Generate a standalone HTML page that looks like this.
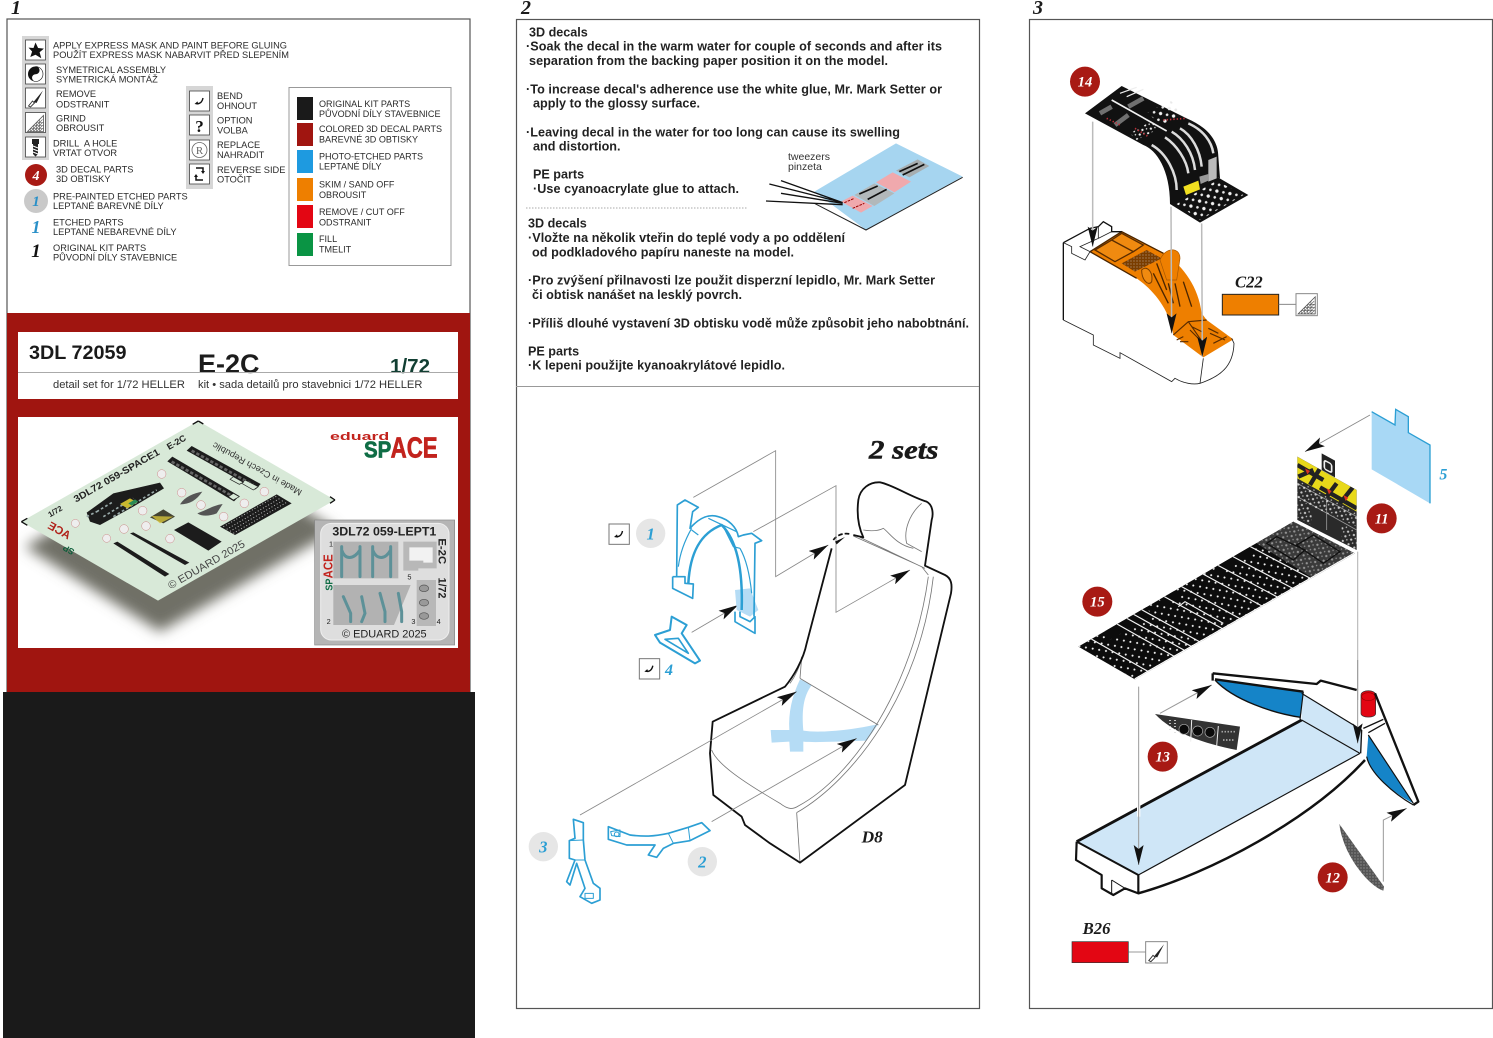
<!DOCTYPE html>
<html><head><meta charset="utf-8"><style>
html,body{margin:0;padding:0;background:#fff}
svg{display:block}
text{font-family:"Liberation Sans",sans-serif;fill:#2a2a2a}
.lg{font-size:9.25px}
.lr{font-size:9.05px}
.b{font-size:12.6px;font-weight:bold;fill:#222}
.n{font-family:"Liberation Serif",serif;font-style:italic;font-weight:bold}
.s{font-family:"Liberation Serif",serif;font-style:italic;font-weight:bold;fill:#1a1a1a}
</style></head><body>
<svg width="1493" height="1038" viewBox="0 0 1493 1038" xmlns="http://www.w3.org/2000/svg">
<defs>
<marker id="a" viewBox="0 0 20 10" refX="20" refY="5" markerWidth="60" markerHeight="30" markerUnits="userSpaceOnUse" orient="auto"><path d="M0,0L20,5L0,10L4,5z" fill="#111"/></marker>
<pattern id="dots" width="31" height="26" patternUnits="userSpaceOnUse" patternTransform="rotate(-30)"><circle cx="6" cy="6" r="3" fill="#f4f4f4"/><circle cx="22" cy="19" r="3" fill="#f4f4f4"/></pattern>
<pattern id="dots2" width="20" height="16" patternUnits="userSpaceOnUse" patternTransform="rotate(30)"><circle cx="6" cy="6" r="3.4" fill="#eee"/><circle cx="15" cy="13" r="2.4" fill="#ddd"/></pattern>
<pattern id="dots3" width="30" height="26" patternUnits="userSpaceOnUse" patternTransform="rotate(-30)"><circle cx="8" cy="8" r="5" fill="#f2f2f2"/><circle cx="23" cy="21" r="4" fill="#e8e8e8"/></pattern>
<pattern id="sp" width="9" height="9" patternUnits="userSpaceOnUse"><circle cx="3" cy="3" r="1.4" fill="#ddd"/></pattern>
<filter id="bl" x="-30%" y="-30%" width="160%" height="160%"><feGaussianBlur stdDeviation="20"/></filter>
<clipPath id="s15"><path d="M55,740L700,365L885,460L225,838z"/></clipPath>
<clipPath id="s11"><path d="M712,170L890,270V450L712,360z"/></clipPath>
<clipPath id="ph"><rect x="54" y="290" width="1320" height="692"/></clipPath>
<g id="bend"><path d="M6.5,12.5c3.5,.8 6,-1 7,-5.5" fill="none" stroke="#111" stroke-width="1.4"/><path d="M5,13l3,-2.6l1,3.2z" fill="#111"/></g>
<g id="scalpel"><path d="M3,18L7,13L9,15L5,19z" fill="none" stroke="#333" stroke-width=".9"/><path d="M8,14L17.5,2.5L11,15z" fill="#222"/></g>
<g id="grind"><path d="M2,19L18,3V19z" fill="#fff" stroke="#555" stroke-width=".8"/><path d="M5,19L17,7M8,19L17,10M11,19L17,13M14,19L17,16M5,16H18M8,13H18M11,10H18M5,19V16M8,19V13M11,19V10M14,19V7" stroke="#555" stroke-width=".55" fill="none"/></g>
</defs>
<rect width="1493" height="1038" fill="#fff"/>

<!-- headings -->
<text class="s" x="11" y="14" font-size="20">1</text>
<text class="s" x="521" y="14" font-size="20">2</text>
<text class="s" x="1033" y="14" font-size="20">3</text>

<!-- PANEL 1 -->
<rect x="7" y="19" width="463" height="680" fill="#fff" stroke="#555" stroke-width="1.2"/>
<rect x="7" y="313" width="463" height="385" fill="#a01510"/>
<rect x="3" y="692" width="472" height="346" fill="#1a1a1a"/>

<!-- legend icons -->
<rect x="22" y="36" width="27" height="124" fill="#d6d6d6"/>
<g fill="#fff" stroke="#444" stroke-width=".8">
<rect x="25.500" y="40" width="20" height="20"/><rect x="25.500" y="64" width="20" height="20"/><rect x="25.500" y="88" width="20" height="20"/><rect x="25.500" y="112.500" width="20" height="20"/><rect x="25.500" y="137" width="20" height="20"/>
</g>
<path d="M35.500,42.500l2.600,5.500l5.800,.6l-4.300,3.700l1.700,6l-5.800,-3.600l-5.200,2.300l1.800,-5.500l-3.600,-3.900l5,.4z" fill="#111"/>
<circle cx="35.500" cy="74" r="7.500" fill="#111"/><path d="M35.500,66.500a3.700,3.700 0 0 1 0,7.500a3.700,3.700 0 0 0 0,7.500a7.500,7.500 0 0 0 0,-15z" fill="#fff" stroke="#111" stroke-width=".6"/>
<use href="#scalpel" x="25.500" y="88"/><use href="#grind" x="25.500" y="112.500"/>
<path d="M32,139h7v5h-1v10l-2.500,2.500l-2.500,-2.500v-10h-1z" fill="#222"/><path d="M33,146l5,2M33,149l5,2M33,152l5,2" stroke="#fff" stroke-width="1"/>
<rect x="186" y="86" width="27" height="103" fill="#d6d6d6"/>
<g fill="#fff" stroke="#444" stroke-width=".8">
<rect x="189.500" y="91" width="20" height="20"/><rect x="189.500" y="115" width="20" height="20"/><rect x="189.500" y="140" width="20" height="20"/><rect x="189.500" y="164" width="20" height="20"/>
</g>
<use href="#bend" x="189.500" y="91"/>
<text x="199.500" y="132" text-anchor="middle" font-size="17" font-weight="bold" style="font-family:'Liberation Serif',serif;fill:#111">?</text>
<circle cx="199.500" cy="150" r="7.500" fill="none" stroke="#666" stroke-width=".8"/><text x="199.500" y="154" text-anchor="middle" font-size="11" style="font-family:'Liberation Serif',serif;fill:#666">R</text>
<path d="M196,168h7v3M203,180h-7v-3" stroke="#111" stroke-width="1.500" fill="none"/><path d="M201,171h4l-2,3zM194,177h4l-2,-3z" fill="#111"/>

<circle cx="36" cy="175" r="11" fill="#a81a14"/><text class="n" x="36" y="180" text-anchor="middle" font-size="14" style="fill:#fff">4</text>
<circle cx="36" cy="201" r="12" fill="#c9c9c9"/><text class="n" x="36" y="206" text-anchor="middle" font-size="15" style="fill:#2a90c8">1</text>
<text class="n" x="36" y="233" text-anchor="middle" font-size="18" style="fill:#2a90c8">1</text>
<text class="n" x="36" y="257" text-anchor="middle" font-size="19" style="fill:#111">1</text>

<g>
<text class="lg" x="53" y="48.500" textLength="234">APPLY EXPRESS MASK AND PAINT BEFORE GLUING</text>
<text class="lg" x="53" y="58" textLength="236">POUŽÍT EXPRESS MASK NABARVIT PŘED SLEPENÍM</text>
<text class="lg" x="56" y="73">SYMETRICAL ASSEMBLY</text><text class="lg" x="56" y="82.500">SYMETRICKÁ MONTÁŽ</text>
<text class="lg" x="56" y="97">REMOVE</text><text class="lg" x="56" y="107.500">ODSTRANIT</text>
<text class="lg" x="56" y="121.500">GRIND</text><text class="lg" x="56" y="131">OBROUSIT</text>
<text class="lg" x="53" y="146.500">DRILL&#160; A HOLE</text><text class="lg" x="53" y="156">VRTAT OTVOR</text>
<text class="lg" x="56" y="172.500">3D DECAL PARTS</text><text class="lg" x="56" y="182">3D OBTISKY</text>
<text class="lg" x="53" y="199.500">PRE-PAINTED ETCHED PARTS</text><text class="lg" x="53" y="209">LEPTANÉ BAREVNÉ DÍLY</text>
<text class="lg" x="53" y="225.500">ETCHED PARTS</text><text class="lg" x="53" y="235">LEPTANÉ NEBAREVNÉ DÍLY</text>
<text class="lg" x="53" y="251">ORIGINAL KIT PARTS</text><text class="lg" x="53" y="260.500">PŮVODNÍ DÍLY STAVEBNICE</text>
<text class="lg" x="217" y="99">BEND</text><text class="lg" x="217" y="109">OHNOUT</text>
<text class="lg" x="217" y="123.500">OPTION</text><text class="lg" x="217" y="133.500">VOLBA</text>
<text class="lg" x="217" y="148">REPLACE</text><text class="lg" x="217" y="158">NAHRADIT</text>
<text class="lg" x="217" y="173">REVERSE SIDE</text><text class="lg" x="217" y="182.500">OTOČIT</text>
</g>
<rect x="289" y="87.500" width="162" height="178" fill="#fff" stroke="#999" stroke-width="1"/>
<rect x="297" y="97" width="16" height="23" fill="#1a1a1a"/><rect x="297" y="123" width="16" height="23" fill="#a01510"/><rect x="297" y="150" width="16" height="23" fill="#1e9ae0"/><rect x="297" y="178" width="16" height="23" fill="#ee7f00"/><rect x="297" y="205" width="16" height="23" fill="#e30613"/><rect x="297" y="233" width="16" height="23" fill="#0a9444"/>
<text class="lr" x="319" y="107">ORIGINAL KIT PARTS</text><text class="lr" x="319" y="117">PŮVODNÍ DÍLY STAVEBNICE</text>
<text class="lr" x="319" y="132">COLORED 3D DECAL PARTS</text><text class="lr" x="319" y="142.500">BAREVNÉ 3D OBTISKY</text>
<text class="lr" x="319" y="159.500">PHOTO-ETCHED PARTS</text><text class="lr" x="319" y="169.500">LEPTANÉ DÍLY</text>
<text class="lr" x="319" y="187.500">SKIM / SAND OFF</text><text class="lr" x="319" y="198">OBROUSIT</text>
<text class="lr" x="319" y="215">REMOVE / CUT OFF</text><text class="lr" x="319" y="225.500">ODSTRANIT</text>
<text class="lr" x="319" y="242">FILL</text><text class="lr" x="319" y="252.500">TMELIT</text>

<!-- title -->
<rect x="18" y="332" width="440" height="67" fill="#fff"/>
<text x="29" y="359" font-size="19.800" font-weight="bold" style="fill:#1a1a1a">3DL 72059</text>
<text x="198" y="373" font-size="27" font-weight="bold" style="fill:#1c1c1c">E-2C</text>
<text x="390" y="373" font-size="20.600" font-weight="bold" style="fill:#123f33">1/72</text>
<rect x="18" y="372" width="440" height="1" fill="#aaa"/>
<text x="53" y="388" font-size="11.150" style="fill:#333">detail set for 1/72 HELLER</text>
<text x="198" y="388" font-size="11.150" style="fill:#333">kit • sada detailů pro stavebnici 1/72 HELLER</text>

<!-- photo box -->
<rect x="18" y="417" width="440" height="231" fill="#fff"/>
<g transform="translate(0,320) scale(.33333)">
<g clip-path="url(#ph)"><path d="M75,650L480,905L1010,600L600,350z" fill="#6f6f66" filter="url(#bl)" transform="translate(0,30)"/></g>
<path d="M64,605L595,303L1005,540L474,842z" fill="#d8e9d8"/>
<path d="M64,605L82,595M64,605L82,616M595,303L610,312M595,303L578,313M1005,540L990,530M1005,540L990,550" stroke="#111" stroke-width="4" fill="none"/>
<text transform="translate(228,548) rotate(-30)" font-size="29" font-weight="bold" style="fill:#222" textLength="292" lengthAdjust="spacingAndGlyphs">3DL72 059-SPACE1</text>
<text transform="translate(507,390) rotate(-30)" font-size="27" font-weight="bold" style="fill:#222">E-2C</text>
<text transform="translate(150,592) rotate(-30)" font-size="23" font-weight="bold" style="fill:#222">1/72</text>
<text transform="translate(908,512) rotate(209)" font-size="27" style="fill:#333" textLength="302" lengthAdjust="spacingAndGlyphs">Made in Czech Republic</text>
<text transform="translate(512,808) rotate(-30)" font-size="32" style="fill:#444" textLength="260" lengthAdjust="spacingAndGlyphs">© EDUARD 2025</text>
<g transform="translate(134,620) rotate(29) scale(-1,1)"><text x="-80" y="0" font-size="34" font-weight="bold" style="fill:#b02018">ACE</text></g>
<text transform="translate(225,690) rotate(209)" font-size="26" font-weight="bold" style="fill:#0d5e3a">SP</text>
<g fill="#1c1c1c">
<path d="M560,392L575,378L782,492L767,508z"/>
<path d="M502,424L517,410L718,528L702,544z"/>
<path d="M660,620L830,523L875,550L705,645z"/>
<path d="M260,578L340,520L480,488L492,505L400,560L300,615L270,605z"/>
<path d="M450,592L490,568L525,590L490,610z" fill="#443"/>
<path d="M522,630L565,607L665,665L625,692z"/>
<path d="M340,670L352,665L508,762L495,770z"/>
<path d="M390,640L400,637L568,728L555,735z"/>
<path d="M540,553C555,530 580,520 607,515C590,540 570,553 540,553z" fill="#555"/>
<path d="M592,580C620,570 640,556 668,552L650,580C630,588 605,590 592,580z" fill="#555"/>
</g>
<path d="M290,575L340,545M310,590L400,535M340,590L470,510M260,590L300,570" stroke="#9aa" stroke-width="5" stroke-dasharray="8 7" fill="none"/>
<path d="M670,620L830,528M680,628L840,535M690,634L850,541M700,640L860,547" stroke="#bbb" stroke-width="3" stroke-dasharray="3 6"/>
<path d="M575,392L760,495M515,425L700,530" stroke="#666" stroke-width="8" stroke-dasharray="10 6" fill="none"/>
<path d="M685,530L700,520L718,530L700,540zM735,480L775,500L760,510L725,490zM700,470L730,487L718,493L690,478z" fill="#d8e9d8" stroke="#222" stroke-width="2"/>
<path d="M455,588L520,590L480,610z" fill="#d5c23a" opacity=".8"/><path d="M360,552L390,535L412,547L382,565z" fill="#c9b830"/><path d="M385,550L405,538L415,545L395,557z" fill="#2a8a55"/>
<g fill="#eee" stroke="#c88" stroke-width="1.500">
<circle cx="485" cy="462" r="13"/><circle cx="545" cy="518" r="13"/><circle cx="603" cy="555" r="13"/><circle cx="428" cy="572" r="13"/><circle cx="438" cy="618" r="13"/><circle cx="372" cy="627" r="13"/><circle cx="320" cy="655" r="12"/><circle cx="226" cy="610" r="12"/><circle cx="671" cy="590" r="13"/><circle cx="733" cy="550" r="13"/><circle cx="793" cy="515" r="13"/><circle cx="510" cy="656" r="13"/>
</g>
<!-- logo -->
<text x="990" y="360" font-size="32" font-weight="bold" style="fill:#c2231d" textLength="178" lengthAdjust="spacingAndGlyphs">eduard</text>
<text x="1092" y="412" font-size="68" font-weight="bold" style="fill:#0f6d45;stroke:#0f6d45;stroke-width:2" textLength="82" lengthAdjust="spacingAndGlyphs">SP</text>
<text x="1172" y="412" font-size="86" font-weight="bold" style="fill:#c2231d;stroke:#c2231d;stroke-width:2" textLength="141" lengthAdjust="spacingAndGlyphs">ACE</text>
<!-- fret -->
<rect x="944" y="600" width="420" height="375" fill="#b5b5b5" stroke="#888" stroke-width="2"/>
<rect x="962" y="610" width="385" height="350" rx="32" fill="#dedede" stroke="#eee" stroke-width="3"/>
<path d="M1000,665H1195V775H1000z" fill="#b2b2b2"/>
<path d="M1210,665H1310V745H1255V752H1210z" fill="#b8b8b8"/><path d="M1228,682H1298V728H1270V722H1228z" fill="#f2f2f2"/>
<path d="M1000,795H1232L1182,915H1000z" fill="#b2b2b2"/>
<path d="M1250,780H1308V918H1250z" fill="#b8b8b8"/>
<g fill="none" stroke="#5d9198" stroke-width="9" stroke-linecap="round">
<path d="M1025,770V680M1080,770V680M1025,690C1035,720 1060,720 1080,690"/><path d="M1118,770V680M1172,770V680M1118,690C1130,720 1155,720 1172,690"/>
<path d="M1030,830L1052,880V905M1085,830L1095,880L1085,905M1140,820L1155,875V905M1195,820L1205,875V905"/>
</g>
<g fill="#999" stroke="#555" stroke-width="2"><ellipse cx="1272" cy="805" rx="14" ry="10"/><ellipse cx="1272" cy="848" rx="14" ry="10"/><ellipse cx="1272" cy="888" rx="14" ry="10"/></g>
<text x="997" y="646" font-size="36" font-weight="bold" style="fill:#222" textLength="312" lengthAdjust="spacingAndGlyphs">3DL72 059-LEPT1</text>
<text x="1026" y="953" font-size="33" style="fill:#222" textLength="254" lengthAdjust="spacingAndGlyphs">© EDUARD 2025</text>
<text transform="translate(1316,655) rotate(90)" font-size="34" font-weight="bold" style="fill:#222">E-2C</text>
<text transform="translate(1316,773) rotate(90)" font-size="32" font-weight="bold" style="fill:#222">1/72</text>
<text x="987" y="680" font-size="22" style="fill:#222">1</text><text x="1222" y="778" font-size="22" style="fill:#222">5</text><text x="980" y="912" font-size="22" style="fill:#222">2</text><text x="1234" y="912" font-size="22" style="fill:#222">3</text><text x="1310" y="912" font-size="22" style="fill:#222">4</text>
<text transform="translate(998,775) rotate(-90)" font-size="38" font-weight="bold" style="fill:#c2231d" textLength="72" lengthAdjust="spacingAndGlyphs">ACE</text>
<text transform="translate(998,812) rotate(-90)" font-size="30" font-weight="bold" style="fill:#0f6d45" textLength="36" lengthAdjust="spacingAndGlyphs">SP</text>
</g>

<!-- PANEL 2 -->
<rect x="516.500" y="19.500" width="463" height="989" fill="#fff" stroke="#555" stroke-width="1.200"/>
<text class="b" x="529" y="36.500">3D decals</text>
<text class="b" x="526" y="50.500" textLength="416">·Soak the decal in the warm water for couple of seconds and after its</text>
<text class="b" x="529" y="65" textLength="359">separation from the backing paper position it on the model.</text>
<text class="b" x="526" y="93.500" textLength="416">·To increase decal's adherence use the white glue, Mr. Mark Setter or</text>
<text class="b" x="533" y="107.500" textLength="167">apply to the glossy surface.</text>
<text class="b" x="526" y="136.500" textLength="374">·Leaving decal in the water for too long can cause its swelling</text>
<text class="b" x="533" y="150.500">and distortion.</text>
<text class="b" x="533" y="178.500">PE parts</text>
<text class="b" x="533" y="193" textLength="206">·Use cyanoacrylate glue to attach.</text>
<path d="M526,208H748" stroke="#aaa" stroke-width="1" stroke-dasharray="1.500 1.500"/>
<text class="b" x="528" y="227.500">3D decals</text>
<text class="b" x="528" y="242" textLength="317">·Vložte na několik vteřin do teplé vody a po oddělení</text>
<text class="b" x="532" y="256.500" textLength="262">od podkladového papíru naneste na model.</text>
<text class="b" x="528" y="284.500" textLength="407">·Pro zvýšení přilnavosti lze použit disperzní lepidlo, Mr. Mark Setter</text>
<text class="b" x="532" y="299" textLength="210">či obtisk nanášet na lesklý povrch.</text>
<text class="b" x="528" y="327.500" textLength="441">·Příliš dlouhé vystavení 3D obtisku vodě může způsobit jeho nabobtnání.</text>
<text class="b" x="528" y="355.500">PE parts</text>
<text class="b" x="528" y="369.500" textLength="257">·K lepeni použijte kyanoakrylátové lepidlo.</text>
<rect x="516" y="386" width="463" height="1" fill="#999"/>
<text x="788" y="160" font-size="10.500" style="fill:#333">tweezers</text><text x="788" y="170" font-size="10.500" style="fill:#333">pinzeta</text>
<g transform="translate(516,130) scale(.33333)">
<path d="M895,185L1140,40L1340,140L1050,300z" fill="#a6d5f0"/>
<path d="M1340,142L1050,300L895,220" fill="none" stroke="#222" stroke-width="3"/>
<path d="M975,215L1010,197L1070,228L1035,248z" fill="#f0a9ad"/><path d="M1015,195L1075,160L1135,190L1075,228z" fill="#b2b8ba"/><path d="M1080,157L1130,127L1185,155L1135,187z" fill="#f0a9ad"/><path d="M1140,122L1205,88L1240,108L1180,142z" fill="#a7aeb0"/>
<path d="M1030,192L1085,168M1055,208L1112,178M1150,125L1205,100M1160,135L1225,103" stroke="#111" stroke-width="5"/>
<path d="M760,162L980,218M795,152L980,218M795,190L980,220M750,213L980,224" stroke="#111" stroke-width="4"/>
<path d="M985,218L1015,205M1010,235L1045,220" stroke="#900" stroke-width="3" stroke-dasharray="8 3"/>
</g>

<g transform="translate(520,420) scale(.33333)">
<!-- seat -->
<path d="M840,778L875,795C850,830 845,870 850,932C900,940 1000,930 1075,912L1040,962C950,965 880,968 850,965L850,995L810,995L808,965L755,968L752,930L808,930C805,880 815,830 840,778z" fill="#b5dcf5"/>
<g fill="none" stroke="#777" stroke-width="2.500">
<path d="M840,775L1075,915"/>
<path d="M575,990C590,1030 660,1080 780,1150C805,1170 820,1168 835,1158C1000,1070 1180,800 1225,470"/>
<path d="M830,1178C1000,1080 1200,820 1240,470"/>
<path d="M830,1178L840,1328"/>
<path d="M1000,348L1205,440L1225,465M1020,352L1215,445"/>
<path d="M1205,250C1170,280 1150,330 1160,370L1205,395"/>
<path d="M1030,330C1060,335 1080,330 1090,325C1110,340 1130,375 1180,385"/>
<path d="M810,790C825,770 840,740 845,710M840,775L845,712"/>
</g>
<path d="M1000,345L1030,352C1015,320 1010,280 1015,240C1020,205 1050,185 1080,187C1120,195 1170,230 1220,245C1240,255 1240,285 1235,300L1215,437L1275,465C1295,475 1297,495 1293,520L1155,1095L840,1328L750,1270L675,1215L665,1190L580,1125L570,1000L578,905L795,800C820,770 850,720 860,670L935,385" fill="none" stroke="#111" stroke-width="5.500" stroke-linejoin="round"/>
<path d="M940,360C950,345 970,338 990,342" fill="none" stroke="#111" stroke-width="5" stroke-dasharray="14 6"/>
<!-- connectors -->
<g fill="none" stroke="#888" stroke-width="2.500">
<path d="M520,232L767,92V470L925,375" marker-end="url(#a)"/>
<path d="M700,335L948,197V577L1170,450" marker-end="url(#a)"/>
<path d="M515,637L655,555" marker-end="url(#a)"/>
<path d="M180,1185L830,815" marker-end="url(#a)"/>
<path d="M575,1205L1010,955" marker-end="url(#a)"/>
</g>
<path d="M945,365l30,-14l-25,22z" fill="#111"/>
<!-- PE parts -->
<path d="M645,510L690,505L715,570L690,590L650,570z" fill="#b5dcf5"/>
<g fill="none" stroke="#2c9fd4" stroke-width="5" stroke-linejoin="round">
<path d="M470,470L472,255L495,240L535,262L518,275L510,325C540,290 570,282 595,290C625,298 650,320 655,350L670,345L695,340L725,362L705,370L702,590"/>
<path d="M475,440C480,400 495,360 515,325M515,330L535,345M565,295L650,335M610,320L640,380L660,385M660,385C680,420 690,470 695,520" stroke-width="3.500"/>
<path d="M458,470V505L518,535L520,492L495,490L495,470L458,470"/>
<path d="M645,575V605L705,640V590L690,605L660,590V575"/>
<path d="M505,490C510,400 540,340 605,315C640,350 670,420 665,570" stroke-width="7.500"/>
<path d="M455,590L500,615L485,640L540,722L525,730L420,668L405,645L450,630z" stroke-width="6"/>
<path d="M435,658L475,655L505,700z" stroke-width="5"/>
<path d="M265,1220L330,1245C370,1250 400,1250 445,1240L505,1222L545,1208L570,1232L510,1262L460,1270L430,1285L410,1312L385,1305L405,1275L320,1275L265,1258z"/>
<path d="M445,1240L460,1270M505,1222L510,1262M272,1235l28,-5v20l-25,-3z" stroke-width="3"/>
<circle cx="290" cy="1243" r="7" stroke-width="3"/>
<path d="M160,1198L190,1208L190,1260L195,1320L220,1390L240,1405L240,1440L215,1450L180,1430L195,1405L170,1330L150,1395L140,1385L165,1320L148,1315L148,1262L165,1255z"/>
<path d="M190,1260L148,1262M195,1320L165,1320M195,1420h25v15h-25z" stroke-width="3"/>
</g>
<!-- labels -->
<circle cx="392" cy="340" r="44" fill="#e6e6e6"/><text class="n" x="392" y="358" text-anchor="middle" font-size="50" style="fill:#2c9fd4">1</text>
<text class="n" x="447" y="765" text-anchor="middle" font-size="48" style="fill:#2c9fd4">4</text>
<circle cx="70" cy="1280" r="44" fill="#e6e6e6"/><text class="n" x="70" y="1298" text-anchor="middle" font-size="50" style="fill:#2c9fd4">3</text>
<circle cx="547" cy="1325" r="44" fill="#e6e6e6"/><text class="n" x="547" y="1343" text-anchor="middle" font-size="50" style="fill:#2c9fd4">2</text>
<rect x="267" y="312" width="61" height="61" fill="#fff" stroke="#777" stroke-width="3"/><use href="#bend" transform="translate(267,312) scale(3)"/>
<rect x="358" y="716" width="61" height="61" fill="#fff" stroke="#777" stroke-width="3"/><use href="#bend" transform="translate(358,716) scale(3)"/>
<text class="s" x="1047" y="116" font-size="78" textLength="208" lengthAdjust="spacingAndGlyphs" style="stroke:#1a1a1a;stroke-width:1.500">2 sets</text>
<text class="s" x="1025" y="1268" font-size="52">D8</text>
</g>

<!-- PANEL 3 -->
<rect x="1029.500" y="19.500" width="463" height="989" fill="#fff" stroke="#555" stroke-width="1.200"/>

<g transform="translate(1040,50) scale(.33333)">
<!-- base -->
<path d="M70,578L150,535L175,530L190,515L215,530V545L245,545L370,610L490,790L580,868C585,940 540,985 480,1000C460,1005 430,1000 405,985L395,995L240,908V925L160,885V855L70,810z" fill="#fff"/>
<path d="M150,605L245,545L375,610C430,650 475,710 485,790L500,810L580,868L490,922L400,855C390,780 340,720 290,685z" fill="#ee7f00"/>
<path d="M165,600L215,570L280,605L225,635zM215,570L245,550L310,585L280,605z" fill="#f08a10" stroke="#5a2c00" stroke-width="4"/>
<path d="M245,640L320,600L365,625L285,665z" fill="#7a3d00"/><path d="M245,640L320,600L365,625L285,665z" fill="url(#sp)"/>
<path d="M150,605L290,685M150,605L245,545L370,610" fill="none" stroke="#4a2500" stroke-width="4"/>
<path d="M305,660C320,645 340,665 335,695C325,710 305,690 305,660z" fill="#f08a10" stroke="#7a3d00" stroke-width="3"/>
<path d="M360,630C375,590 420,590 420,625L410,690L380,690z" fill="#ee7f00" stroke="#a85800" stroke-width="2"/>
<path d="M405,700L420,770M430,695L455,770M385,700L400,760M350,640L380,720M340,670L385,760" stroke="#4a2500" stroke-width="4" fill="none"/>
<path d="M400,855L445,815L500,810M445,815L490,880M410,870L430,860M450,840L480,870M510,850L555,870M520,880L560,860M420,875h25M455,830l30,15M505,835l30,15" stroke="#5a2c00" stroke-width="3.500" fill="none"/>
<path d="M70,578L150,535L175,530L190,515L215,530V545L245,545M70,578V810" fill="none" stroke="#111" stroke-width="4"/>
<path d="M70,578L95,590V610L135,630L150,605L120,590L175,565V530M175,565L215,545" fill="none" stroke="#222" stroke-width="2.500"/>
<path d="M70,810L160,855V885L240,925V908L395,995L405,985C430,1000 460,1005 480,1000C540,980 580,950 582,880L575,865M480,1000L490,925" fill="none" stroke="#222" stroke-width="2.500"/>
<!-- decal 14 -->
<path d="M135,190L245,108L440,205C500,230 535,270 535,320L540,385L530,380L625,435L480,518L390,462C390,360 350,300 310,285z" fill="#111"/>
<path d="M215,150L380,243" stroke="#f2f2f2" stroke-width="5"/><path d="M240,130L290,112M260,140L310,118" stroke="#eee" stroke-width="3.500"/>
<g fill="none" stroke="#dcdcdc" stroke-width="7.500">
<path d="M335,285C380,310 410,370 410,420"/><path d="M375,262C410,285 440,330 445,370"/><path d="M395,245C430,265 460,310 465,360"/><path d="M420,235C455,255 480,300 485,350"/><path d="M445,220C490,240 515,275 520,310"/>
</g>
<path d="M180,190L215,170M225,225L265,195M265,170L310,145" stroke="#707070" stroke-width="14"/>
<path d="M320,190L390,150L430,190L370,225z" fill="url(#dots3)"/>
<path d="M270,250L340,210L350,240L290,270z" fill="url(#dots2)"/>
<path d="M200,205L240,225M285,235L325,260M370,210L440,205" stroke="#c0303a" stroke-width="5" stroke-dasharray="4 6"/>
<path d="M430,410L475,392L480,418L438,435z" fill="#f2e020"/><path d="M505,330L530,320V385L505,395z" fill="#bbb"/><path d="M478,380L505,372V392L482,402z" fill="#999"/>
<path d="M410,462L530,392L610,435L480,510z" fill="url(#dots3)"/>
<!-- connectors -->
<g stroke="#bbb" stroke-width="4.500" fill="none"><path d="M158,215V590" marker-end="url(#a)"/><path d="M393,470L395,850" marker-end="url(#a)"/><path d="M485,520L487,920" marker-end="url(#a)"/></g>
<!-- C22 -->
<text class="s" x="585" y="712" font-size="50">C22</text>
<rect x="547" y="733" width="169" height="62" fill="#ee7f00" stroke="#222" stroke-width="3"/>
<path d="M716,763H768" stroke="#777" stroke-width="2.500"/>
<rect x="768" y="731" width="64" height="66" fill="#fff" stroke="#888" stroke-width="3"/><use href="#grind" transform="translate(768,731) scale(3.200)"/>
<circle cx="135" cy="95" r="45" fill="#a81a14"/><text class="n" x="135" y="110" text-anchor="middle" font-size="44" style="fill:#fff">14</text>
</g>

<g transform="translate(1060,400) scale(.33333)">
<!-- part 5 -->
<path d="M935,35L1005,75L1007,28L1045,50V98L1110,135V310L935,208z" fill="#a8d8f5"/>
<path d="M935,35L1005,75L1007,28L1045,50V98L1110,135V310" fill="none" stroke="#2c9fd4" stroke-width="4"/>
<path d="M930,45L735,155" stroke="#888" stroke-width="2.500" marker-end="url(#a)"/>
<text class="n" x="1150" y="238" text-anchor="middle" font-size="48" style="fill:#2c9fd4">5</text>
<!-- 11 -->
<path d="M785,160L825,182V232L785,210z" fill="#222"/><rect x="793" y="184" width="22" height="26" rx="6" fill="none" stroke="#eee" stroke-width="5" transform="skewY(28) translate(0,-425)"/>
<path d="M712,170L890,270V450L712,360z" fill="#2a2a2a"/>
<g clip-path="url(#s11)">
<path d="M712,170L890,270V335L712,235z" fill="#e8d91a"/>
<path d="M712,195L790,240M715,230L760,210M750,255L780,205M800,290L830,250M840,310L880,260M780,262L890,325" stroke="#222" stroke-width="13"/>
<path d="M735,205l15,8l-8,10zM800,265l15,8l-8,10zM850,285l15,8l-8,10z" fill="#d93020"/>
<path d="M712,290L890,390M800,295V390M712,250L890,350" stroke="#999" stroke-width="2.500"/>
<path d="M712,240L890,340V380L712,300z" fill="url(#dots2)" opacity=".8"/>
<path d="M712,300L755,325V375L712,352zM845,370L890,395V450L845,425z" fill="url(#dots2)" opacity=".8"/>
</g>
<!-- 15 -->
<path d="M55,740L700,365L885,460L225,838z" fill="#0c0c0c"/>
<g clip-path="url(#s15)">
<path d="M55,740L700,365L885,460L225,838z" fill="url(#dots)"/>
<path d="M590,430L700,365L885,460L755,532z" fill="#3a3a3a"/>
<path d="M590,430L700,365L885,460L755,532z" fill="url(#dots2)" opacity=".5"/>
<g stroke="#0c0c0c" stroke-width="40" fill="none"><path d="M140,702L265,630M300,600L345,575M470,505L580,440"/></g>
<g stroke="#f2f2f2" stroke-width="3.500" fill="none">
<path d="M94,717L265,815M171,672L344,770M201,655L375,752M221,643L395,740M245,629L420,726M313,590L489,687M365,560L542,657M429,522L608,619M474,496L654,592M519,470L700,566M571,440L753,536"/>
<path d="M355,620L375,605L490,670"/>
</g>
<path d="M710,435L760,405L840,455L790,490zM620,430L650,410L735,450L700,480z" fill="none" stroke="#111" stroke-width="4"/>
<path d="M225,838L885,460" stroke="#fff" stroke-width="7"/>
</g>
<path d="M712,362L890,455" stroke="#fff" stroke-width="4"/>
<path d="M893,455V900" stroke="#bbb" stroke-width="3.500"/>
<circle cx="965" cy="355" r="45" fill="#a81a14"/><text class="n" x="965" y="370" text-anchor="middle" font-size="44" style="fill:#fff">11</text>
<circle cx="112" cy="605" r="45" fill="#a81a14"/><text class="n" x="112" y="620" text-anchor="middle" font-size="44" style="fill:#fff">15</text>
</g>

<g transform="translate(1060,660) scale(.33333)">
<!-- tray -->
<path d="M50,545L725,180L900,280L235,645z" fill="#cfe6f7"/>
<path d="M725,100L905,210L900,278L725,178z" fill="#cfe6f7"/>
<path d="M465,58L730,95L722,172C640,160 520,120 465,58z" fill="#1584c8"/>
<path d="M925,225L1060,430C1000,400 930,340 920,290z" fill="#1584c8"/>
<path d="M903,105C903,88 947,88 947,105V160C947,175 903,175 903,160z" fill="#e30613" stroke="#333" stroke-width="2"/>
<ellipse cx="925" cy="110" rx="20" ry="12" fill="none" stroke="#900" stroke-width="2"/>
<g fill="none" stroke="#111" stroke-linejoin="round">
<path d="M50,545L725,180" stroke-width="8.500"/>
<path d="M235,645L900,280M725,180L900,280M725,100L905,210M730,95L720,178" stroke-width="3.500"/>
<path d="M50,545L235,645" stroke-width="6"/>
<path d="M50,545L48,600L125,645V685L160,705L195,685L235,700V645" stroke-width="6.500"/>
<path d="M155,660V700M155,660L195,685" stroke-width="3"/>
<path d="M235,700C450,640 750,480 915,300" stroke-width="7.500"/>
<path d="M458,40L770,72L782,62L890,90M458,40V62M465,58L730,95" stroke-width="7"/>
<path d="M465,60C520,120 640,160 722,172" stroke-width="4"/>
<path d="M945,100L1075,425L1060,435" stroke-width="7"/>
<path d="M925,225L1060,430M920,290C930,340 1000,400 1060,435" stroke-width="3.500"/>
<path d="M910,205L970,178M925,218L975,190M905,210L902,280" stroke-width="4"/>
</g>
<path d="M236,415V470" stroke="#fff" stroke-width="10"/>
<g stroke="#999" stroke-width="3" fill="none">
<path d="M300,160L455,75" marker-end="url(#a)"/>
<path d="M970,665V480L1040,445" marker-end="url(#a)"/>
<path d="M236,80V615" marker-end="url(#a)"/>
<path d="M893,0V250" marker-end="url(#a)"/>
</g>
<!-- 13 -->
<path d="M285,162L540,200L530,270C430,250 340,220 285,162z" fill="#333"/>
<path d="M395,180L392,245M475,198L470,258" stroke="#eee" stroke-width="3"/>
<g fill="#0a0a0a" stroke="#aaa" stroke-width="2"><circle cx="372" cy="208" r="15"/><circle cx="413" cy="213" r="15"/><circle cx="450" cy="217" r="15"/></g>
<path d="M330,180V215M345,180V220M485,215H525M490,240H520" stroke="#ddd" stroke-width="5" stroke-dasharray="3 6"/>
<!-- 12 -->
<path d="M838,492L972,680L970,692C930,680 850,590 838,492z" fill="#555"/><path d="M838,492L972,680L970,692C930,680 850,590 838,492z" fill="url(#sp)"/>
<circle cx="308" cy="290" r="45" fill="#a81a14"/><text class="n" x="308" y="305" text-anchor="middle" font-size="44" style="fill:#fff">13</text>
<circle cx="818" cy="652" r="45" fill="#a81a14"/><text class="n" x="818" y="667" text-anchor="middle" font-size="44" style="fill:#fff">12</text>
<text class="s" x="68" y="822" font-size="50">B26</text>
<rect x="36" y="845" width="169" height="63" fill="#e30613" stroke="#333" stroke-width="2"/>
<path d="M205,876H257" stroke="#777" stroke-width="2.500"/>
<rect x="257" y="845" width="65" height="64" fill="#fff" stroke="#888" stroke-width="3"/><use href="#scalpel" transform="translate(257,845) scale(3.150)"/>
</g>
</svg>
</body></html>
